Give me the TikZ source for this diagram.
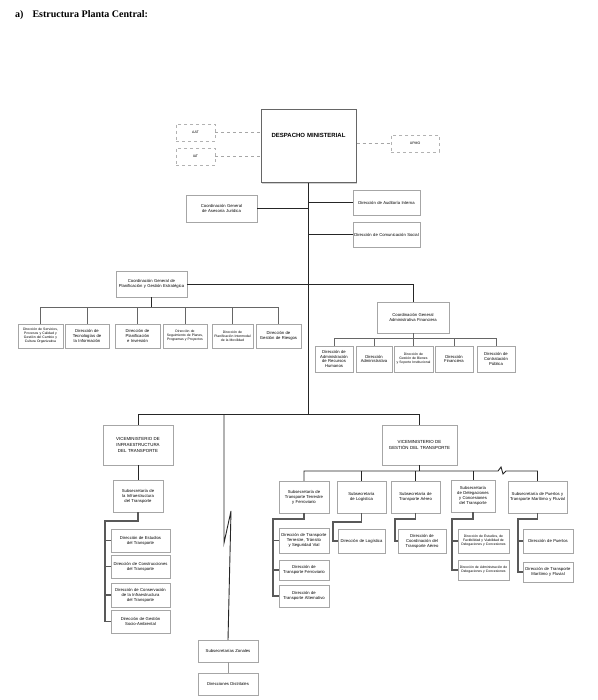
\documentclass[tikz,border=0pt]{standalone}
\usepackage{fontspec}
\setmainfont{Liberation Sans}
\newfontfamily\titlefont{Liberation Serif}
\usetikzlibrary{shadows}
\hyphenpenalty=10000
\exhyphenpenalty=10000
\tikzset{
  box/.style={draw=black!35, fill=white, line width=0.4pt, inner sep=0.5pt, align=center,
    font=\fontsize{4.2}{4.9}\selectfont,
    drop shadow={shadow xshift=1pt, shadow yshift=-1pt, fill=black!18, opacity=1}},
  dbox/.style={draw=black!30, dashed, fill=white, line width=0.4pt, inner sep=0.5pt, align=center,
    font=\fontsize{3.5}{4}\selectfont},
  conn/.style={draw=black!85, line width=0.9pt},
  brk/.style={draw=black!65, line width=1.1pt},
  dconn/.style={draw=black!35, dashed, line width=0.4pt},
  small/.style={font=\fontsize{3.4}{4}\selectfont},
  vice/.style={font=\fontsize{4.4}{5.6}\selectfont}
}
\newcommand\bx[7][]{%
  \pgfmathsetmacro\bw{#5-#3}\pgfmathsetmacro\bh{#6-#4}\pgfmathsetmacro\tw{#5-#3-2}%
  \node[box,minimum width=\bw pt,minimum height=\bh pt,text width=\tw pt,#1] (#2) at ({(#3+#5)/2},{(#4+#6)/2}) {#7};}
\begin{document}
\begin{tikzpicture}[x=1pt,y=-1pt]
\useasboundingbox (0,0) rectangle (597,700);
\fill[white] (0,0) rectangle (597,700);

\node[anchor=west, inner sep=0, font=\titlefont\bfseries\fontsize{10}{12}\selectfont] (title) at (15,15) {a)\hspace{0.9em}Estructura Planta Central:};

% top
\bx[font=\bfseries\fontsize{6}{7}\selectfont, line width=1pt, draw=black!60]{desp}{261}{110}{356}{183}{DESPACHO MINISTERIAL\\[16pt]\mbox{}}
\node[dbox, minimum width=39pt, minimum height=17pt] (aat) at (195.5,132.5) {AAT};
\node[dbox, minimum width=39pt, minimum height=17pt] (iat) at (195.5,156.5) {IAT};
\node[dbox, minimum width=48pt, minimum height=17pt] (upmo) at (415,143.5) {UPMO};
\draw[dconn] (aat.east) -- (aat.east -| desp.west);
\draw[dconn] (iat.east) -- (iat.east -| desp.west);
\draw[dconn] (desp.east |- upmo.west) -- (upmo.west);

\bx{ases}{186}{195}{257}{222}{Coordinación General de Asesoría Jurídica}
\bx{aud}{353}{190}{420}{215}{Dirección de Auditoría Interna}
\bx{com}{353}{222}{420}{247}{Dirección de Comunicación Social}

% planning group
\bx{plan}{116}{271}{187}{297}{Coordinación General de Planificación y Gestión Estratégica}
\bx[small]{p1}{18}{324}{63}{348}{Dirección de Servicios, Procesos y Calidad y Gestión del Cambio y Cultura Organizativa}
\bx{p2}{65}{324}{109}{348}{Dirección de Tecnologías de la Información}
\bx{p3}{115}{324}{160}{348}{Dirección de Planificación e Inversión}
\bx[small]{p4}{163}{324}{207}{348}{Dirección de Seguimiento de Planes, Programas y Proyectos}
\bx[small]{p5}{212}{324}{253}{348}{Dirección de Planificación Intermodal de la Movilidad}
\bx{p6}{256}{324}{301}{348}{Dirección de Gestión de Riesgos}

% admin group
\bx{cgaf}{377}{302}{449}{333}{Coordinación General Administrativa Financiera}
\bx{r1}{315}{346}{353}{372}{Dirección de Administración de Recursos Humanos}
\bx{r2}{356}{346}{392}{372}{Dirección Administrativa}
\bx[small]{r3}{394}{346}{433}{372}{Dirección de Gestión de Bienes y Soporte Institucional}
\bx{r4}{435}{346}{473}{372}{Dirección Financiera}
\bx{r5}{477}{346}{515}{372}{Dirección de Contratación Pública}

% viceministerios
\bx[vice]{vi}{103}{425}{173}{465}{VICEMINISTERIO DE INFRAESTRUCTURA DEL TRANSPORTE}
\bx[vice]{vg}{382}{425}{457}{465}{VICEMINISTERIO DE GESTIÓN DEL TRANSPORTE}

% infraestructura
\bx{si}{113}{480}{163}{512}{Subsecretaría de la Infraestructura del Transporte}
\bx{d1}{111}{529}{170}{552}{Dirección de Estudios del Transporte}
\bx{d2}{111}{555}{170}{578}{Dirección de Construcciones del Transporte}
\bx{d3}{111}{583}{170}{607}{Dirección de Conservación de la Infraestructura del Transporte}
\bx{d4}{111}{610}{170}{633}{Dirección de Gestión Socio-Ambiental}

% gestion
\bx{s1}{279}{481}{329}{513}{Subsecretaría de Transporte Terrestre y Ferroviario}
\bx{s2}{337}{481}{386}{513}{Subsecretaría de Logística}
\bx{s3}{391}{481}{440}{513}{Subsecretaría de Transporte Aéreo}
\bx{s4}{451}{480}{495}{512}{Subsecretaría de Delegaciones y Concesiones del Transporte}
\bx{s5}{508}{481}{567}{513}{Subsecretaría de Puertos y Transporte Marítimo y Fluvial}
\bx{t1}{279}{528}{329}{553}{Dirección de Transporte Terrestre, Tránsito y Seguridad Vial}
\bx{t2}{279}{560}{329}{580}{Dirección de Transporte Ferroviario}
\bx{t3}{279}{585}{329}{607}{Dirección de Transporte Alternativo}
\bx{u1}{338}{529}{385}{553}{Dirección de Logística}
\bx{v1}{398}{529}{446}{553}{Dirección de Coordinación del Transporte Aéreo}
\bx[small]{w1}{458}{529}{509}{553}{Dirección de Estudios, de Factibilidad y Viabilidad de Delegaciones y Concesiones}
\bx[small]{w2}{458}{560}{509}{580}{Dirección de Administración de Delegaciones y Concesiones}
\bx{x1}{523}{529}{573}{553}{Dirección de Puertos}
\bx{x2}{523}{562}{573}{582}{Dirección de Transporte Marítimo y Fluvial}

% zonales
\bx{zon}{198}{640}{258}{662}{Subsecretarías Zonales}
\bx{dist}{198}{673}{258}{695}{Direcciones Distritales}

% ---- connectors ----
\coordinate (ylev) at (0,414);
\coordinate (j1) at (desp.south |- ylev);
\draw[conn] (desp.south) -- (j1);
\draw[conn] (ases.east) -- (ases.east -| j1);
\draw[conn] (aud.west) -- (aud.west -| j1);
\draw[conn] (com.west) -- (com.west -| j1);
\draw[conn] (plan.east) -| (cgaf.north);

\coordinate (pbus) at (0,307);
\draw[conn] (plan.south) -- (plan.south |- pbus);
\draw[conn,draw=black!60] (p1.north) |- (p6.north |- pbus) -- (p6.north);
\foreach \p in {p2,p3,p4,p5} \draw[conn,draw=black!60] (\p.north |- pbus) -- (\p.north);

\coordinate (rbus) at (0,338);
\draw[conn,draw=black!60] (cgaf.south) -- (cgaf.south |- rbus);
\draw[conn,draw=black!60] (r1.north) |- (r5.north |- rbus) -- (r5.north);
\foreach \p in {r2,r3,r4} \draw[conn,draw=black!60] (\p.north |- rbus) -- (\p.north);

\draw[conn] (vi.north) |- (vg.north |- ylev) -- (vg.north);
\coordinate (z0) at (224,414);
\coordinate (z1) at (224,543);
\coordinate (z2) at (231,511);
\draw[conn] (z0) -- (z1) -- (z2) -- (zon.north);
\draw[draw=black!40, line width=0.5pt] (zon) -- (dist);

\draw[conn] (vi) -- (si);
\coordinate (lb) at (105,521);
\draw[brk] (si.south) |- (lb) -- (lb |- d4.west) -- (d4.west);
\foreach \d in {d1,d2,d3} \draw[brk] (lb |- \d.west) -- (\d.west);

\coordinate (gbus) at (0,471);
\coordinate (jA) at (498,471);
\coordinate (jB) at (501,467);
\coordinate (jC) at (503,474);
\coordinate (jD) at (506,471);
\draw[conn] (vg.south) -- (vg.south |- gbus);
\draw[conn] (s1.north) |- (jA) -- (jB) -- (jC) -- (jD) -- (s5.north |- gbus) -- (s5.north);
\foreach \p in {s2,s3,s4} \draw[conn] (\p.north |- gbus) -- (\p.north);

\coordinate (tb) at (273,519);
\draw[brk] (s1.south) |- (tb) -- (tb |- t3.west) -- (t3.west);
\foreach \d in {t1,t2} \draw[brk] (tb |- \d.west) -- (\d.west);
\coordinate (ub) at (333,522);
\draw[brk] (s2.south) |- (ub) |- (u1.west);
\coordinate (vb) at (395,519);
\draw[brk] (s3.south) |- (vb) |- (v1.west);
\coordinate (wb) at (452,519);
\draw[brk] (s4.south) |- (wb) |- (w2.west);
\draw[brk] (wb |- w1.west) -- (w1.west);
\coordinate (xb) at (518,519);
\draw[brk] (s5.south) |- (xb) |- (x2.west);
\draw[brk] (xb |- x1.west) -- (x1.west);
\end{tikzpicture}
\end{document}
